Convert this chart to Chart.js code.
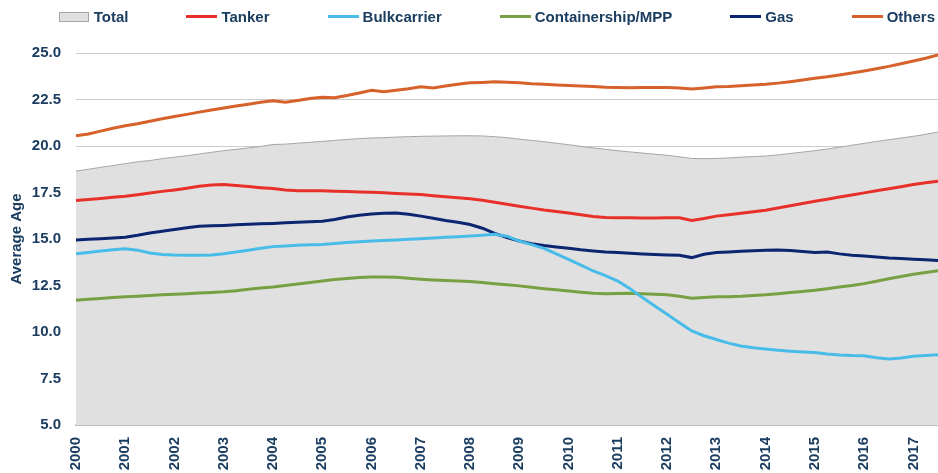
<!DOCTYPE html>
<html>
<head>
<meta charset="utf-8">
<script src="https://cdn.jsdelivr.net/npm/chart.js@4.4.1/dist/chart.umd.min.js"></script>
<style>
    body { margin: 0; background: #ffffff; }
    #caixa { position: relative; width: 938px; height: 473px; }
    #legenda {
        position: absolute; top: 8px; right: 3px;
        display: flex; align-items: center;
        font-family: 'Liberation Sans', Arial, sans-serif;
        font-weight: bold; font-size: 15px; color: #1b3d60;
    }
    #legenda .item { display: flex; align-items: center; margin-left: 58px; }
    #legenda .item:first-child { margin-left: 0; }
    #legenda .marca { display: inline-block; width: 31px; height: 3px; margin-right: 4px; }
    #legenda .caixa { width: 28px; height: 8px; border: 1px solid #a6a6a6; margin-right: 5px; }
</style>
</head>
<body>
<div id="caixa">
    <div id="legenda"></div>
    <canvas id="graficoIdade"></canvas>
</div>
<script>
// quarterly points, 2000 Q1 .. 2017 Q3
var anos = ['2000', '2001', '2002', '2003', '2004', '2005', '2006', '2007', '2008',
    '2009', '2010', '2011', '2012', '2013', '2014', '2015', '2016', '2017'];
var pontosPorAno = 4;
var ticksY = [5.0, 7.5, 10.0, 12.5, 15.0, 17.5, 20.0, 22.5, 25.0];

var total = [
    18.65, 18.75, 18.85, 18.95, 19.05, 19.15, 19.22, 19.32, 19.4, 19.48, 19.57, 19.66,
    19.75, 19.82, 19.9, 19.98, 20.08, 20.1, 20.15, 20.2, 20.25, 20.3, 20.35, 20.4,
    20.43, 20.45, 20.48, 20.5, 20.52, 20.53, 20.54, 20.55, 20.55, 20.54, 20.5, 20.45,
    20.37, 20.3, 20.23, 20.15, 20.07, 19.98, 19.9, 19.82, 19.75, 19.68, 19.62, 19.56,
    19.5, 19.42, 19.33, 19.32, 19.33, 19.36, 19.4, 19.43, 19.46, 19.52, 19.6, 19.67,
    19.75, 19.84, 19.94, 20.04, 20.14, 20.24, 20.34, 20.43, 20.52, 20.63, 20.75
];
var tanker = [
    17.07, 17.12, 17.18, 17.24, 17.3, 17.38, 17.47, 17.56, 17.64, 17.73, 17.83, 17.9,
    17.93, 17.88, 17.82, 17.76, 17.71, 17.64, 17.6, 17.6, 17.6, 17.57, 17.55, 17.53,
    17.51, 17.48, 17.45, 17.42, 17.39, 17.33, 17.27, 17.22, 17.16, 17.08, 16.98, 16.87,
    16.76, 16.66, 16.56, 16.48, 16.4, 16.3, 16.21, 16.16, 16.14, 16.14, 16.13, 16.13,
    16.14, 16.14, 16.0, 16.1, 16.23, 16.3, 16.38, 16.46, 16.55, 16.67, 16.79, 16.91,
    17.03, 17.14, 17.26, 17.37, 17.48, 17.59, 17.7, 17.81, 17.93, 18.02, 18.1
];
var bulkcarrier = [
    14.21, 14.28, 14.35, 14.42, 14.48, 14.4, 14.25, 14.17, 14.14, 14.13, 14.13, 14.14,
    14.21, 14.3, 14.4, 14.5, 14.59, 14.63, 14.66, 14.69, 14.71, 14.76, 14.81, 14.85,
    14.89, 14.92, 14.95, 14.98, 15.01, 15.05, 15.09, 15.12, 15.16, 15.2, 15.25, 15.15,
    14.89, 14.7, 14.5, 14.2, 13.91, 13.6, 13.28, 13.03, 12.74, 12.33, 11.85, 11.4,
    10.96, 10.5, 10.06, 9.8, 9.6, 9.4, 9.25, 9.15, 9.08, 9.02, 8.97, 8.93,
    8.9, 8.82, 8.76, 8.73, 8.72, 8.62, 8.55, 8.6, 8.69, 8.74, 8.78
];
var containership = [
    11.71, 11.76, 11.8, 11.85, 11.89, 11.92, 11.96, 12.0, 12.03, 12.06, 12.1, 12.13,
    12.16, 12.22, 12.3, 12.36, 12.42, 12.5, 12.58, 12.66, 12.74, 12.82, 12.88, 12.93,
    12.96, 12.96, 12.94, 12.89, 12.84, 12.8, 12.77, 12.74, 12.71, 12.66, 12.6, 12.54,
    12.48, 12.4, 12.33, 12.27, 12.21, 12.14, 12.08, 12.06, 12.07, 12.08, 12.06, 12.03,
    12.0, 11.92, 11.82, 11.86, 11.89, 11.9, 11.92, 11.96, 12.0, 12.06, 12.12, 12.18,
    12.25, 12.33, 12.42, 12.5, 12.6, 12.73, 12.86, 12.98, 13.1, 13.2, 13.3
];
var gas = [
    14.94, 14.98, 15.02, 15.06, 15.1, 15.2, 15.32, 15.42, 15.51, 15.6, 15.68, 15.71,
    15.73, 15.76, 15.79, 15.82, 15.84, 15.87, 15.9, 15.93, 15.96, 16.05, 16.18, 16.28,
    16.35, 16.38, 16.4, 16.33, 16.23, 16.12, 16.0, 15.9, 15.78, 15.58, 15.3, 15.08,
    14.89, 14.75, 14.65, 14.57, 14.5, 14.42, 14.36, 14.3, 14.27, 14.23, 14.2, 14.17,
    14.14, 14.12, 14.0, 14.18, 14.27, 14.3, 14.34, 14.37, 14.39, 14.41, 14.38, 14.33,
    14.27, 14.3, 14.2, 14.13, 14.08, 14.03, 13.98, 13.95, 13.91, 13.88, 13.85
];
var others = [
    20.55, 20.65, 20.8, 20.95, 21.09, 21.2, 21.33, 21.46, 21.59, 21.7, 21.82, 21.93,
    22.04, 22.15, 22.25, 22.35, 22.43, 22.35, 22.45, 22.55, 22.62, 22.6, 22.72, 22.85,
    23.0, 22.92, 23.0, 23.08, 23.18, 23.12, 23.22, 23.32, 23.4, 23.42, 23.45, 23.43,
    23.4, 23.35, 23.32, 23.28, 23.25, 23.22, 23.2, 23.16, 23.14, 23.13, 23.14, 23.14,
    23.14, 23.12, 23.07, 23.12, 23.18, 23.2, 23.24, 23.28, 23.32, 23.38, 23.46, 23.55,
    23.64, 23.72, 23.82, 23.92, 24.03, 24.15, 24.28, 24.42, 24.57, 24.72, 24.9
];

var corTexto = '#1b3d60';

// one label per point, only the first quarter of each year shows the year
var rotulos = [];
for (var i = 0; i < total.length; i++) {
    rotulos.push(i % pontosPorAno == 0 ? anos[i / pontosPorAno] : '');
}

function serie(nome, valores, cor) {
    return {
        label: nome,
        data: valores,
        borderColor: cor,
        backgroundColor: cor,
        borderWidth: 3,
        pointRadius: 0,
        tension: 0,
        fill: false
    };
}

const ctx = document.getElementById('graficoIdade');

const data = {
    labels: rotulos,
    datasets: [
        {
            label: 'Total',
            data: total,
            borderColor: '#a6a6a6',
            backgroundColor: '#e0e0e0',
            borderWidth: 1,
            pointRadius: 0,
            tension: 0,
            fill: 'start',
            order: 10
        },
        serie('Tanker', tanker, '#e8302a'),
        serie('Bulkcarrier', bulkcarrier, '#48bce9'),
        serie('Containership/MPP', containership, '#77a043'),
        serie('Gas', gas, '#0c2570'),
        serie('Others', others, '#d6612a')
    ]
};

const fonte = { family: 'Liberation Sans', size: 15, weight: 'bold' };

const config = {
    type: 'line',
    data: data,
    options: {
        responsive: true,
        maintainAspectRatio: false,
        animation: false,
        layout: { padding: { left: 0, right: 0, top: 53, bottom: 0 } },
        plugins: {
            tooltip: { enabled: false },
            legend: { display: false }
        },
        scales: {
            x: {
                grid: { display: false },
                border: { display: true, color: '#bfbfbf', width: 2 },
                ticks: {
                    autoSkip: false,
                    maxRotation: 90,
                    minRotation: 90,
                    padding: 4,
                    color: corTexto,
                    font: fonte
                },
                afterFit: function (escala) {
                    escala.height = 48;
                    escala.paddingLeft = 0;
                    escala.paddingRight = 0;
                }
            },
            y: {
                min: 5,
                max: 25,
                afterBuildTicks: function (escala) {
                    escala.ticks = ticksY.map(function (v) { return { value: v }; });
                },
                grid: { color: '#cccccc', drawTicks: false },
                border: { display: false },
                ticks: {
                    padding: 15,
                    color: corTexto,
                    font: fonte,
                    callback: function (valor) { return valor.toFixed(1); }
                },
                title: {
                    display: true,
                    text: 'Average Age',
                    color: corTexto,
                    padding: { top: 8, bottom: 0 },
                    font: fonte
                },
                afterFit: function (escala) { escala.width = 76; }
            }
        }
    }
};

var graficoIdade = new Chart(ctx, config);

// legend as html, built from the datasets
var legenda = document.getElementById('legenda');
data.datasets.forEach(function (ds, n) {
    var item = document.createElement('span');
    item.className = 'item';
    var marca = document.createElement('span');
    if (n == 0) {
        marca.className = 'marca caixa';
        marca.style.background = ds.backgroundColor;
    } else {
        marca.className = 'marca';
        marca.style.background = ds.borderColor;
    }
    var texto = document.createElement('span');
    texto.textContent = ds.label;
    item.appendChild(marca);
    item.appendChild(texto);
    legenda.appendChild(item);
});
</script>
</body>
</html>
